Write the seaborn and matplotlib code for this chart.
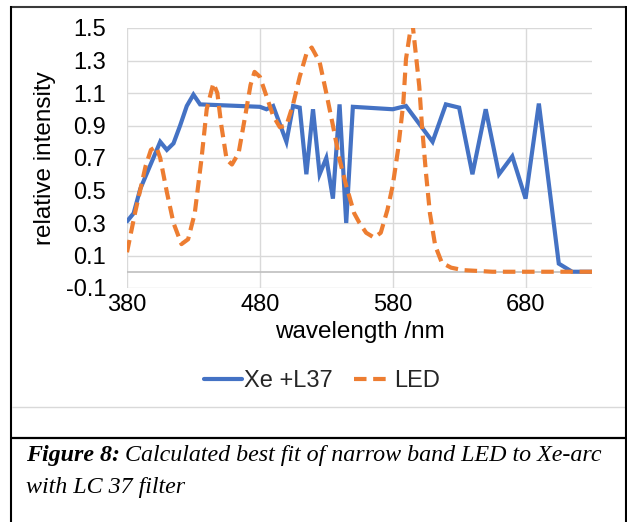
import matplotlib
matplotlib.use("Agg")
import matplotlib.pyplot as plt
from matplotlib.lines import Line2D
import seaborn as sns
import pandas as pd

# ---- data ----
xe_wl = [380, 385, 390, 405, 410, 415, 420, 425, 430, 435, 480, 485, 490, 500, 505,
         510, 515, 520, 525, 530, 535, 540, 545, 550, 580, 590, 610, 620, 630, 640,
         650, 660, 670, 680, 690, 705, 715, 730]
xe_val = [0.31, 0.36, 0.51, 0.80, 0.75, 0.79, 0.90, 1.02, 1.09, 1.03, 1.015, 1.00, 1.02,
          0.80, 1.02, 1.01, 0.60, 1.00, 0.60, 0.70, 0.45, 1.03, 0.30, 1.015, 1.00, 1.02,
          0.80, 1.03, 1.01, 0.60, 1.00, 0.60, 0.71, 0.45, 1.035, 0.05, 0.0, 0.0]

led_wl = [380, 386, 394, 398, 402, 405, 410, 415, 421, 426, 431, 436, 440, 445, 448,
          451, 455, 459, 464, 469, 473, 476, 480, 485, 490, 495, 500, 505, 510, 515,
          519, 525, 530, 535, 540, 545, 551, 555, 560, 566, 571, 576, 580, 584, 588,
          590, 593, 595, 597, 600, 602, 605, 608, 612, 617, 624, 633, 655, 730]
led_val = [0.12, 0.36, 0.65, 0.75, 0.77, 0.70, 0.49, 0.30, 0.17, 0.20, 0.36, 0.69, 1.00,
           1.16, 1.10, 0.90, 0.69, 0.66, 0.73, 0.96, 1.15, 1.23, 1.20, 1.08, 0.96, 0.89,
           0.90, 1.03, 1.20, 1.34, 1.38, 1.29, 1.10, 0.90, 0.69, 0.53, 0.36, 0.30, 0.24,
           0.21, 0.24, 0.38, 0.53, 0.75, 1.04, 1.31, 1.47, 1.52, 1.37, 1.14, 0.90, 0.61,
           0.36, 0.16, 0.055, 0.025, 0.01, 0.0, 0.0]

y_ticks = [-0.1, 0.1, 0.3, 0.5, 0.7, 0.9, 1.1, 1.3, 1.5]
x_ticks = [380, 480, 580, 680]
series_names = ["Xe +L37", "LED"]

BLUE = "#4472C4"
ORANGE = "#ED7D31"
LW = 3.0
DASH = [3.0, 1.6]

sns.set_theme(style="white")
plt.rcParams["font.family"] = ["Liberation Sans", "DejaVu Sans"]

W, H = 627, 522
fig = plt.figure(figsize=(W / 100, H / 100), dpi=100)

def fx(px):
    return px / W

def fy(py):
    return 1 - py / H

ax_left, ax_right, ax_top, ax_bot = 127, 592, 28, 288
ax = fig.add_axes([fx(ax_left), fy(ax_bot), (ax_right - ax_left) / W, (ax_bot - ax_top) / H])

df_xe = pd.DataFrame({"wl": xe_wl, "val": xe_val})
df_led = pd.DataFrame({"wl": led_wl, "val": led_val})

sns.lineplot(data=df_xe, x="wl", y="val", ax=ax, color=BLUE, lw=LW,
             sort=False, solid_joinstyle="miter", zorder=3)
sns.lineplot(data=df_led, x="wl", y="val", ax=ax, color=ORANGE, lw=LW,
             sort=False, zorder=4, dashes=False)
ax.lines[-1].set_dashes(DASH)
ax.lines[-1].set_dash_capstyle("butt")

ax.set_xlim(380, 730)
ax.set_ylim(-0.1, 1.5)
ax.set_yticks(y_ticks)
ax.set_yticklabels([f"{t:.1f}" for t in y_ticks])
ax.set_xticks(x_ticks)
ax.set_xticklabels([str(t) for t in x_ticks])
ax.grid(True, color="#D9D9D9", lw=1.0)
ax.axhline(0, color="#BFBFBF", lw=1.2, zorder=2)
for s in ax.spines.values():
    s.set_visible(False)
ax.tick_params(axis="both", length=0, labelsize=17, colors="black")
ax.tick_params(axis="y", pad=15)
ax.tick_params(axis="x", pad=4)

ax.set_xlabel("wavelength /nm", fontsize=17.5, color="black")
ax.set_ylabel("relative intensity", fontsize=17.5, color="black")
ax.xaxis.set_label_coords(0.5, (ax_bot - 332) / (ax_bot - ax_top))
ax.xaxis.label.set_va("center")
ax.yaxis.set_label_coords((45 - ax_left) / (ax_right - ax_left), 0.5)
ax.yaxis.label.set_va("center")

handles = [Line2D([], [], color=BLUE, lw=LW),
           Line2D([], [], color=ORANGE, lw=LW, dashes=DASH)]
fig.legend(handles, series_names, loc="center", bbox_to_anchor=(fx(322), fy(381)),
           ncol=2, frameon=False, fontsize=17, handlelength=1.6,
           handletextpad=0.1, columnspacing=0.9)

# borders
def hline(y, x0, x1, color, lw):
    fig.add_artist(Line2D([fx(x0), fx(x1)], [fy(y), fy(y)], color=color, lw=lw,
                          transform=fig.transFigure, solid_capstyle="butt"))

def vline(x, y0, y1, color, lw):
    fig.add_artist(Line2D([fx(x), fx(x)], [fy(y0), fy(y1)], color=color, lw=lw,
                          transform=fig.transFigure, solid_capstyle="butt"))

hline(406.5, 12, 625, "#D9D9D9", 1.0)
hline(6.5, 10, 626, "#3a3a3a", 1.5)
vline(11, 6, 522, "black", 1.5)
vline(625.5, 6, 522, "black", 1.5)
hline(438, 10, 627, "black", 1.6)

# caption
cap_size = 17.3
t1 = fig.text(fx(26), fy(455), "Figure 8:", fontsize=cap_size, family="Liberation Serif",
              weight="bold", style="italic", va="center", ha="left", color="black")
fig.canvas.draw()
bb = t1.get_window_extent(renderer=fig.canvas.get_renderer())
fig.text(bb.x1 / W + fx(5), fy(455),
         "Calculated best fit of narrow band LED to Xe-arc", fontsize=cap_size,
         family="Liberation Serif", style="italic", va="center", ha="left", color="black")
fig.text(fx(26), fy(487), "with LC 37 filter", fontsize=cap_size, family="Liberation Serif",
         style="italic", va="center", ha="left", color="black")

fig.savefig("out.png", dpi=100)
